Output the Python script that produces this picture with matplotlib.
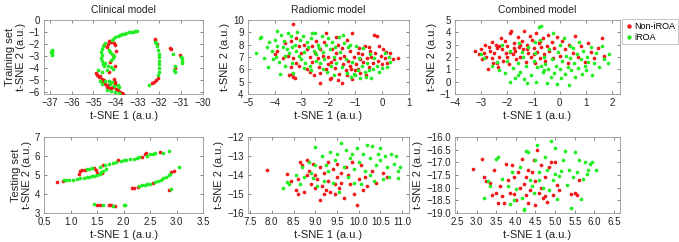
import numpy as np
import matplotlib
matplotlib.use("Agg")
import matplotlib.pyplot as plt

plt.rcParams['font.family'] = ['Liberation Sans', 'DejaVu Sans']

# ---- data ----
clin_train_non = [(-34.3, -1.75), (-34.2, -1.85), (-34.05, -1.95), (-34.35, -2.0), (-34.5, -2.05), (-34.4, -2.25),
                  (-34.0, -2.1), (-33.95, -2.6), (-34.1, -2.9), (-34.25, -3.5), (-34.0, -3.85), (-34.3, -4.3),
                  (-34.9, -4.4), (-34.85, -4.55), (-34.75, -4.75), (-34.7, -4.65), (-34.6, -4.95), (-34.55, -5.1),
                  (-34.5, -5.0), (-34.45, -5.3), (-34.4, -5.55), (-34.35, -5.45), (-34.3, -5.65), (-34.2, -5.7),
                  (-34.1, -5.6), (-34.0, -5.35), (-34.0, -5.15), (-34.05, -4.95), (-33.95, -5.75), (-33.9, -5.85),
                  (-33.8, -6.0), (-33.7, -6.1), (-33.65, -6.2), (-32.2, -1.55), (-32.18, -1.7), (-32.1, -2.0),
                  (-32.05, -4.8), (-32.15, -5.0), (-32.25, -5.15), (-32.35, -5.25), (-31.5, -2.3), (-31.45, -2.4),
                  (-31.05, -2.9), (-31.3, -4.0)]
clin_train_iroa = [(-36.9, -2.5), (-36.88, -2.6), (-36.92, -2.7), (-36.9, -2.8), (-36.88, -2.9),
                   (-33.0, -0.9), (-33.1, -0.95), (-33.2, -0.98), (-33.3, -1.02), (-33.4, -1.05), (-33.5, -1.1),
                   (-33.6, -1.15), (-33.7, -1.2), (-33.8, -1.3), (-33.9, -1.35), (-34.0, -1.45), (-34.1, -1.6),
                   (-34.15, -1.7), (-34.45, -1.9), (-34.55, -2.2), (-34.6, -2.45), (-34.65, -2.7), (-34.6, -2.95),
                   (-34.65, -3.2), (-34.6, -3.45), (-34.55, -3.7), (-34.5, -3.85), (-34.45, -3.6), (-34.3, -2.5),
                   (-34.25, -2.7), (-34.15, -2.8), (-34.05, -3.0), (-34.1, -3.2), (-34.2, -3.35), (-34.35, -3.8),
                   (-34.2, -3.9), (-34.1, -4.1), (-34.4, -4.2), (-34.6, -4.3), (-34.8, -4.2), (-34.7, -5.1),
                   (-34.6, -5.3), (-34.45, -5.05), (-34.3, -5.1), (-34.15, -5.2), (-34.25, -5.35), (-33.9, -5.4),
                   (-33.85, -5.6), (-34.05, -5.5), (-34.4, -5.8), (-34.2, -5.9), (-34.0, -6.0), (-33.85, -6.05),
                   (-32.2, -1.8), (-32.15, -1.9), (-32.1, -2.2), (-32.05, -2.5), (-32.02, -2.8), (-32.0, -3.1),
                   (-32.0, -3.4), (-32.0, -3.7), (-32.0, -4.0), (-32.02, -4.3), (-32.05, -4.55), (-32.45, -5.4),
                   (-31.35, -2.85), (-31.3, -3.8), (-31.32, -4.15), (-31.3, -4.35), (-31.0, -3.05), (-30.98, -3.2),
                   (-30.97, -3.4), (-30.95, -3.6)]

rad_train_non = [(-3.3, 9.7), (-3.2, 8.55), (-3.4, 8.3), (-3.6, 8.1), (-3.9, 7.5), (-4.0, 7.2), (-3.7, 6.9),
                 (-3.5, 7.1), (-3.3, 6.9), (-3.2, 6.5), (-3.1, 6.3), (-3.4, 6.2), (-3.35, 5.6), (-3.3, 5.4),
                 (-3.25, 5.3), (-3.45, 5.5), (-2.9, 8.0), (-2.8, 7.6), (-2.7, 7.0), (-2.6, 6.6), (-2.8, 6.0),
                 (-2.7, 5.8), (-2.5, 7.3), (-2.4, 6.9), (-2.35, 6.2), (-2.3, 5.7), (-2.3, 4.9), (-2.2, 7.1),
                 (-2.15, 8.2), (-2.1, 8.9), (-2.0, 7.0), (-2.0, 6.4), (-1.95, 5.2), (-1.9, 5.25), (-1.85, 7.6),
                 (-1.8, 6.8), (-1.75, 6.1), (-1.7, 7.3), (-1.65, 8.0), (-1.6, 5.6), (-1.55, 6.9), (-1.5, 4.9),
                 (-1.5, 7.7), (-1.45, 6.4), (-1.4, 7.1), (-1.35, 5.9), (-1.3, 8.4), (-1.25, 6.7), (-1.2, 7.5),
                 (-1.15, 6.0), (-1.1, 8.9), (-1.05, 7.0), (-1.0, 5.9), (-0.95, 6.4), (-0.9, 6.0), (-0.85, 7.7),
                 (-0.8, 5.7), (-0.75, 7.2), (-0.7, 6.6), (-0.65, 7.9), (-0.6, 5.5), (-0.55, 6.9), (-0.5, 6.2),
                 (-0.45, 7.5), (-0.4, 7.0), (-0.35, 6.5), (-0.3, 8.8), (-0.25, 7.3), (-0.2, 8.7), (-0.15, 6.7),
                 (-0.1, 7.9), (-0.05, 7.1), (0.0, 6.4), (0.05, 7.6), (0.1, 6.9), (0.15, 7.4), (0.2, 6.5),
                 (0.3, 7.3), (0.4, 6.8), (0.6, 6.9), (-2.6, 7.9), (-2.45, 8.3), (-3.0, 7.3), (-3.1, 7.9),
                 (-2.55, 5.5), (-2.1, 6.0), (-1.9, 6.6), (-1.65, 5.1), (-1.3, 5.5), (-1.1, 5.2), (-0.9, 7.3),
                 (-1.7, 8.6), (-2.3, 7.6), (-1.2, 6.3), (-0.8, 6.8), (-0.5, 7.8)]
rad_train_iroa = [(-4.7, 7.3), (-4.55, 8.5), (-4.5, 8.6), (-4.4, 6.9), (-4.3, 7.8), (-4.25, 6.2), (-4.2, 8.2),
                  (-4.1, 7.5), (-4.0, 8.4), (-3.95, 7.0), (-3.9, 9.1), (-3.85, 6.6), (-3.8, 5.6), (-3.75, 8.8),
                  (-3.7, 7.8), (-3.65, 8.3), (-3.6, 6.3), (-3.55, 7.6), (-3.5, 8.9), (-3.45, 7.3), (-3.4, 8.7),
                  (-3.35, 6.5), (-3.3, 5.7), (-3.25, 8.0), (-3.2, 7.5), (-3.15, 9.0), (-3.1, 7.1), (-3.05, 8.4),
                  (-3.0, 6.8), (-2.95, 8.7), (-2.9, 7.4), (-2.85, 6.5), (-2.8, 8.2), (-2.75, 7.8), (-2.7, 6.3),
                  (-2.65, 8.5), (-2.6, 8.9), (-2.55, 7.5), (-2.5, 8.9), (-2.45, 6.7), (-2.4, 8.0), (-2.35, 7.7),
                  (-2.3, 6.5), (-2.25, 8.7), (-2.2, 7.4), (-2.15, 6.8), (-2.1, 8.0), (-2.05, 5.8), (-2.0, 8.5),
                  (-1.95, 7.6), (-1.9, 6.3), (-1.85, 8.2), (-1.8, 5.5), (-1.75, 7.8), (-1.7, 6.5), (-1.6, 8.6),
                  (-1.55, 7.4), (-1.5, 6.2), (-1.4, 8.1), (-1.35, 6.8), (-1.3, 5.7), (-1.25, 7.8), (-1.2, 8.0),
                  (-1.15, 5.4), (-1.1, 6.6), (-1.05, 5.6), (-1.0, 5.5), (-0.95, 7.9), (-0.9, 5.9), (-0.85, 6.9),
                  (-0.8, 5.3), (-0.75, 6.3), (-0.7, 7.7), (-0.65, 5.8), (-0.6, 5.4), (-0.55, 6.5), (-0.5, 5.9),
                  (-0.45, 7.2), (-0.4, 5.3), (-0.35, 6.0), (-0.3, 6.9), (-0.2, 6.3), (-0.1, 5.8), (0.0, 6.1),
                  (0.1, 7.3), (0.2, 6.2), (0.25, 7.0), (0.3, 6.6), (-4.05, 6.8), (-3.9, 7.9), (-3.6, 7.1),
                  (-3.35, 7.8), (-2.9, 6.1), (-2.45, 7.2), (-1.8, 7.0), (-1.45, 8.8), (-2.65, 5.9), (-2.2, 6.0)]

comb_train_non = [(-3.25, 2.5), (-3.1, 2.2), (-3.0, 2.6), (-2.95, 1.8), (-2.9, 2.3), (-2.8, 2.0), (-2.75, 1.0),
                  (-2.7, 2.8), (-2.65, 2.5), (-2.6, 3.2), (-2.55, 1.5), (-2.5, 2.3), (-2.45, 3.0), (-2.4, 2.7),
                  (-2.35, 1.2), (-2.3, 2.0), (-2.25, 3.5), (-2.2, 2.6), (-2.15, 1.7), (-2.1, 3.3), (-2.05, 2.3),
                  (-2.0, 2.9), (-1.95, 1.4), (-1.9, 3.9), (-1.85, 4.1), (-1.8, 2.2), (-1.75, 3.1), (-1.7, 2.5),
                  (-1.65, 1.8), (-1.6, 3.6), (-1.55, 2.8), (-1.5, 2.0), (-1.45, 3.3), (-1.4, 2.6), (-1.35, 4.1),
                  (-1.3, 1.6), (-1.25, 3.0), (-1.2, 2.3), (-1.15, 3.7), (-1.1, 2.0), (-1.05, 3.4), (-1.0, 2.7),
                  (-0.95, 1.5), (-0.9, 3.9), (-0.85, 2.4), (-0.8, 3.1), (-0.75, 1.9), (-0.7, 2.8), (-0.65, 3.5),
                  (-0.6, 2.2), (-0.55, 1.7), (-0.5, 2.9), (-0.45, 3.8), (-0.4, 2.5), (-0.3, 3.2), (-0.25, 1.9),
                  (-0.2, 2.7), (-0.1, 3.6), (0.0, 2.1), (0.1, 3.3), (0.2, 2.6), (0.3, 1.5), (0.35, 3.0),
                  (0.5, 2.3), (0.6, 3.7), (0.7, 2.0), (0.8, 2.9), (0.95, 1.6), (1.1, 3.1), (1.2, 2.4), (1.3, 1.9),
                  (1.45, 2.7), (1.6, 3.5), (1.7, 2.1), (-2.85, 3.0), (-2.6, 1.9), (-2.4, 1.5), (-2.0, 2.0),
                  (-1.75, 2.7), (-1.5, 3.0), (-1.25, 2.6), (-1.0, 2.2), (-0.75, 3.3), (-2.3, 2.9), (-1.9, 2.4)]
comb_train_iroa = [(-3.0, 2.2), (-2.9, 1.9), (-2.6, 1.3), (-2.3, 0.9), (-2.2, 3.0), (-2.1, 0.7), (-2.0, 1.7),
                   (-1.9, 2.5), (-1.8, 1.1), (-1.7, 0.3), (-1.6, 1.5), (-1.55, 3.1), (-1.5, 0.8), (-1.4, 2.0),
                   (-1.35, 0.2), (-1.3, 1.3), (-1.2, 2.8), (-1.1, 0.5), (-1.0, 1.7), (-0.95, 2.3), (-0.9, 0.0),
                   (-0.85, 1.2), (-0.8, 4.4), (-0.7, 4.5), (-0.75, 3.4), (-0.65, 0.8), (-0.6, 2.0), (-0.55, 1.4),
                   (-0.5, -0.1), (-0.45, 1.0), (-0.4, 2.6), (-0.35, 0.4), (-0.3, 1.8), (-0.25, 3.9), (-0.2, 0.7),
                   (-0.15, 1.3), (-0.1, -0.2), (-0.05, 2.4), (0.0, 1.0), (0.05, 0.3), (0.1, 1.7), (0.15, 3.5),
                   (0.2, 0.6), (0.25, 2.1), (0.3, 1.2), (0.35, -0.3), (0.4, 1.9), (0.45, 0.9), (0.5, 2.7),
                   (0.55, 1.5), (0.6, 0.4), (0.65, 2.2), (0.7, 1.1), (0.75, 3.2), (0.8, 1.8), (0.85, 0.6),
                   (0.9, 2.5), (0.95, 1.3), (1.0, 0.9), (1.05, 2.0), (1.1, 1.6), (1.2, 2.8), (1.25, 0.5),
                   (1.3, 1.5), (1.4, 2.3), (1.5, 1.2), (1.6, 2.9), (1.7, 1.8), (1.85, 1.5), (1.9, 2.2),
                   (-1.9, 0.0), (-1.6, 0.5), (-1.25, -0.1), (-0.95, 3.2), (-0.6, 0.9), (0.0, 3.0), (0.4, 2.9),
                   (-2.4, 1.6), (-1.45, 2.4), (-0.7, 1.3)]

clin_test_non = [(0.75, 4.62), (0.85, 4.7), (1.15, 5.05), (1.18, 5.2), (1.22, 5.27), (1.28, 5.25), (1.45, 5.35),
                 (1.48, 5.28), (1.5, 5.12), (1.6, 5.1), (1.62, 5.5), (1.9, 5.78), (2.35, 5.95), (2.4, 6.08),
                 (2.43, 6.15), (2.68, 6.2), (2.15, 4.3), (2.2, 4.33), (2.27, 4.37), (2.55, 4.58), (2.9, 5.15),
                 (2.95, 5.2), (2.85, 4.2), (1.5, 3.43), (1.55, 3.42), (1.72, 3.4), (1.76, 3.4), (1.83, 3.38)]
clin_test_iroa = [(0.87, 4.74), (0.92, 4.75), (0.97, 4.76), (1.05, 4.76), (1.12, 4.8), (1.18, 4.82), (1.25, 4.85),
                  (1.3, 4.87), (1.35, 4.9), (1.4, 4.93), (1.45, 4.96), (1.5, 5.0), (1.55, 5.05), (1.58, 5.15),
                  (1.62, 5.22), (1.66, 5.32), (1.3, 5.3), (1.35, 5.33), (1.4, 5.35), (1.55, 5.44), (1.65, 5.5),
                  (1.72, 5.57), (1.8, 5.62), (1.85, 5.68), (1.95, 5.72), (2.0, 5.77), (2.05, 5.8), (2.12, 5.82),
                  (2.2, 5.86), (2.25, 5.9), (2.3, 5.92), (2.45, 5.98), (2.5, 6.1), (2.55, 6.12), (2.6, 6.13),
                  (2.75, 6.18), (2.85, 6.28), (2.3, 4.42), (2.35, 4.45), (2.4, 4.48), (2.45, 4.52), (2.5, 4.55),
                  (2.6, 4.62), (2.65, 4.68), (2.7, 4.75), (2.75, 4.82), (2.8, 4.9), (2.85, 4.98), (2.88, 5.05),
                  (3.05, 5.4), (2.9, 4.25), (1.45, 3.45), (1.62, 3.42), (1.8, 3.39), (2.0, 3.42), (2.03, 3.42)]

rad_test_non = [(7.9, -13.75), (8.35, -13.95), (8.45, -14.3), (8.55, -14.8), (8.6, -14.2), (8.65, -13.3),
                (8.7, -13.45), (8.75, -14.9), (8.8, -13.2), (8.85, -13.8), (8.9, -14.5), (8.95, -13.4),
                (9.0, -14.0), (9.0, -14.7), (9.05, -14.2), (9.1, -13.6), (9.1, -15.3), (9.15, -14.6),
                (9.2, -13.9), (9.25, -14.8), (9.3, -13.3), (9.3, -14.3), (9.35, -14.9), (9.4, -13.7),
                (9.45, -14.5), (9.5, -14.1), (9.5, -13.4), (9.55, -14.7), (9.6, -13.9), (9.6, -14.4),
                (9.65, -15.2), (9.7, -13.6), (9.75, -14.0), (9.8, -14.5), (9.85, -13.3), (9.9, -15.0),
                (9.95, -15.6), (10.0, -14.2), (10.05, -13.5), (10.1, -14.8), (10.15, -14.1), (10.2, -14.6),
                (10.3, -13.8), (10.4, -14.4), (10.55, -13.9), (10.65, -14.1), (8.6, -15.0), (9.2, -15.0),
                (9.45, -15.0), (8.8, -14.0)]
rad_test_iroa = [(8.25, -14.7), (8.35, -14.35), (8.4, -14.45), (8.55, -14.0), (8.65, -14.5), (8.7, -13.6),
                 (8.75, -14.1), (8.85, -13.3), (8.9, -13.9), (9.0, -12.55), (9.0, -13.5), (9.05, -14.6),
                 (9.15, -13.0), (9.2, -14.3), (9.3, -13.8), (9.35, -12.8), (9.4, -14.4), (9.45, -13.2),
                 (9.5, -12.9), (9.55, -14.9), (9.6, -12.3), (9.65, -13.6), (9.7, -12.7), (9.75, -14.1),
                 (9.8, -13.1), (9.85, -12.9), (9.9, -13.7), (9.95, -12.6), (10.0, -13.3), (10.05, -14.5),
                 (10.1, -12.9), (10.15, -13.8), (10.2, -12.4), (10.25, -13.1), (10.3, -12.5), (10.35, -14.3),
                 (10.4, -13.5), (10.45, -12.9), (10.5, -13.2), (10.5, -12.6), (10.55, -14.2), (10.6, -13.0),
                 (10.65, -13.6), (10.7, -14.1), (10.75, -12.9), (10.8, -13.4), (10.85, -13.0), (10.9, -13.8),
                 (10.95, -13.6), (10.9, -14.15), (9.25, -13.45), (9.9, -14.4), (10.25, -14.0), (8.95, -14.15)]

comb_test_non = [(2.9, -17.25), (3.15, -16.85), (3.2, -17.6), (3.25, -17.75), (3.35, -17.8), (3.4, -18.3),
                 (3.45, -17.3), (3.5, -18.2), (3.55, -18.6), (3.6, -17.95), (3.65, -18.35), (3.7, -18.6),
                 (3.75, -17.05), (3.8, -17.7), (3.85, -18.2), (3.9, -17.1), (3.95, -17.6), (4.0, -18.5),
                 (4.05, -17.4), (4.1, -18.0), (4.15, -16.85), (4.2, -17.85), (4.25, -18.3), (4.3, -17.3),
                 (4.35, -18.1), (4.4, -17.4), (4.45, -16.9), (4.5, -18.7), (4.5, -17.75), (4.55, -16.5),
                 (4.6, -18.2), (4.65, -17.1), (4.7, -18.4), (4.75, -17.6), (4.8, -18.55), (4.85, -17.2),
                 (4.9, -17.0), (4.95, -18.3), (5.0, -17.0), (5.05, -17.9), (5.1, -18.1), (5.4, -18.25),
                 (5.5, -18.2), (5.55, -18.3), (5.6, -17.7), (4.3, -18.6), (4.65, -18.0), (4.25, -17.6),
                 (3.95, -18.25), (4.75, -18.35)]
comb_test_iroa = [(3.2, -18.4), (3.3, -17.75), (3.35, -17.95), (3.5, -16.85), (3.55, -16.8), (3.65, -17.65),
                  (3.8, -17.95), (3.85, -18.65), (3.9, -17.4), (4.0, -18.05), (4.1, -17.2), (4.15, -18.4),
                  (4.2, -18.9), (4.25, -16.55), (4.3, -16.6), (4.35, -17.7), (4.4, -17.95), (4.45, -18.2),
                  (4.5, -16.9), (4.55, -16.3), (4.6, -17.4), (4.7, -18.0), (4.75, -16.8), (4.8, -17.3),
                  (4.85, -18.1), (4.9, -16.15), (4.95, -17.7), (5.0, -16.45), (5.0, -17.45), (5.05, -18.45),
                  (5.1, -17.55), (5.15, -17.35), (5.2, -16.9), (5.25, -16.55), (5.3, -17.9), (5.35, -17.3),
                  (5.4, -18.8), (5.45, -17.6), (5.5, -16.6), (5.55, -17.4), (5.6, -16.9), (5.65, -18.45),
                  (5.7, -17.65), (5.75, -17.0), (5.8, -17.45), (5.85, -17.3), (5.9, -17.05), (5.95, -17.0),
                  (6.05, -17.3), (4.2, -18.85), (3.95, -18.5), (4.6, -17.7)]

titles = ['Clinical model', 'Radiomic model', 'Combined model']
row_names = ['Training set', 'Testing set']
labels = ['Non-iROA', 'iROA']

# axis setup per panel: (xlim, xticks, ylim, yticks, tick format)
panels = [
    [(clin_train_non, clin_train_iroa, (-37.25, -30), np.arange(-37, -29), (-6.15, 0), np.arange(-6, 1), '%d'),
     (rad_train_non, rad_train_iroa, (-5, 1), np.arange(-5, 2), (4, 10), np.arange(4, 11), '%d'),
     (comb_train_non, comb_train_iroa, (-4, 2.3), np.arange(-4, 3), (-1, 5), np.arange(-1, 6), '%d')],
    [(clin_test_non, clin_test_iroa, (0.5, 3.5), np.arange(0.5, 3.6, 0.5), (3, 7), np.arange(3, 8), '%d'),
     (rad_test_non, rad_test_iroa, (7.45, 11.15), np.arange(7.5, 11.1, 0.5), (-16, -12), np.arange(-16, -11), '%d'),
     (comb_test_non, comb_test_iroa, (2.45, 6.65), np.arange(2.5, 6.6, 0.5), (-19, -16), np.arange(-19, -15.9, 0.5), '%.1f')],
]

red = '#f01818'
green = '#22ee22'
lefts = [0.065, 0.365, 0.670]
widths = [0.234, 0.237, 0.243]
bottoms = [0.612, 0.12]
heights = [0.306, 0.314]

fig = plt.figure(figsize=(6.79, 2.42), dpi=100)

for r in range(2):
    for c in range(3):
        non, iroa, xl, xt, yl, yt, yfmt = panels[r][c]
        ax = fig.add_axes([lefts[c], bottoms[r], widths[c], heights[r]])
        non = np.array(non)
        iroa = np.array(iroa)
        ax.scatter(non[:, 0], non[:, 1], s=7, color=red, linewidths=0, label=labels[0], zorder=3)
        ax.scatter(iroa[:, 0], iroa[:, 1], s=7, color=green, linewidths=0, label=labels[1], zorder=3)
        ax.set_xlim(*xl)
        ax.set_ylim(*yl)
        ax.set_xticks(xt)
        ax.set_yticks(yt)
        xfmt = '%d' if r == 0 else '%.1f'
        ax.set_xticklabels([(xfmt % v).replace('-', '\u2212') for v in xt])
        ax.set_yticklabels([(yfmt % v).replace('-', '\u2212') for v in yt])
        ax.tick_params(direction='in', length=2, width=0.5, labelsize=7, colors='#555555',
                       labelcolor='#222222', top=True, right=True, pad=3)
        for sp in ax.spines.values():
            sp.set_linewidth(0.6)
            sp.set_color('#999999')
        ax.set_xlabel('t-SNE 1 (a.u.)', fontsize=8, color='#222222', labelpad=2)
        if c == 0:
            ax.set_ylabel(row_names[r] + '\nt-SNE 2 (a.u.)', fontsize=8, color='#222222', labelpad=2,
                          linespacing=1.1)
        else:
            ax.set_ylabel('t-SNE 2 (a.u.)', fontsize=8, color='#222222', labelpad=2)
        if r == 0:
            ax.set_title(titles[c], fontsize=7.5, color='#222222', pad=5)
        if r == 0 and c == 2:
            leg = ax.legend(loc='upper left', bbox_to_anchor=(1.01, 1.01), fontsize=6.5, frameon=True,
                            handletextpad=0.1, borderpad=0.3, handlelength=1.0, markerscale=1.2,
                            borderaxespad=0, labelspacing=0.2, fancybox=False)
            leg.get_frame().set_edgecolor('#aaaaaa')
            leg.get_frame().set_linewidth(0.6)

fig.savefig('out.png', dpi=100)
